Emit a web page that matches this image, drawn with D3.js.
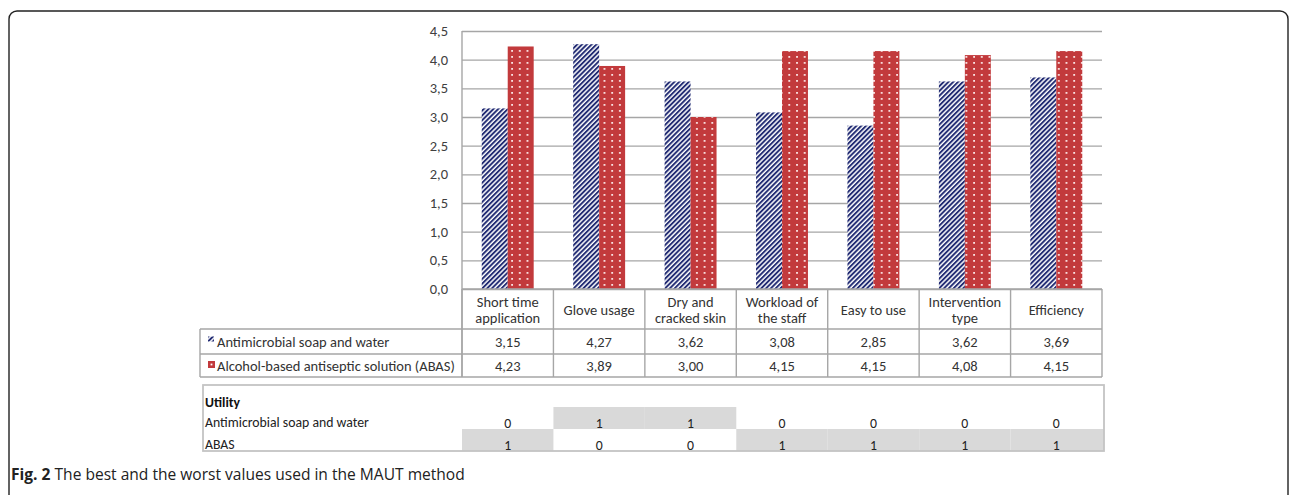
<!DOCTYPE html>
<html>
<head>
<meta charset="utf-8">
<script src="https://cdn.jsdelivr.net/npm/d3@7"></script>
<style>
  body { margin: 0; background: #fff; }
  svg { display: block; }
  text { font-family: Carlito, Lato, "Open Sans", sans-serif; }
</style>
</head>
<body>
<svg id="chart" width="1292" height="495"></svg>
<script>
// data
const categories = [["Short time", "application"], ["Glove usage"], ["Dry and", "cracked skin"],
  ["Workload of", "the staff"], ["Easy to use"], ["Intervention", "type"], ["Efficiency"]];
const seriesNames = ["Antimicrobial soap and water", "Alcohol-based antiseptic solution (ABAS)"];
const soapValues = [3.15, 4.27, 3.62, 3.08, 2.85, 3.62, 3.69];
const abasValues = [4.23, 3.89, 3.00, 4.15, 4.15, 4.08, 4.15];
const yTicks = [0, 0.5, 1, 1.5, 2, 2.5, 3, 3.5, 4, 4.5];
const utilityRows = ["Antimicrobial soap and water", "ABAS"];
const utilitySoap = [0, 1, 1, 0, 0, 0, 0];
const utilityAbas = [1, 0, 0, 1, 1, 1, 1];
const caption = ["Fig. 2", " The best and the worst values used in the MAUT method"];

const svg = d3.select("#chart");
const plot = { left: 462, right: 1102, top: 31, bottom: 289 };
const tbl = { left: 200, catBottom: 329, row1: 354, row2: 377 };
const util = { left: 203, right: 1104, top: 385, row0: 407, row1: 429, bottom: 451 };
const gridCol = "#a6a6a6";
const textCol = "#333";
const comma = f => v => d3.format(f)(v).replace(".", ",");

// 文字幅を測って大きさを決める
function fitSize(str, family, weight, target) {
  const t = svg.append("text").style("font-family", family).style("font-weight", weight)
    .style("font-size", "20px").text(str);
  const w = t.node().getComputedTextLength();
  t.remove();
  return 20 * target / w;
}
const tableFont = "Carlito, Lato, 'Open Sans', sans-serif";
const fs = fitSize(seriesNames[1], tableFont, "normal", 238);
const ufs = fitSize(utilityRows[0], tableFont, "normal", 164);
const capFont = "'Open Sans', sans-serif";
const cfs = fitSize(caption[0] + caption[1], capFont, "normal", 452);

// patterns
const defs = svg.append("defs");
const hatch = defs.append("pattern").attr("id", "hatch")
  .attr("patternUnits", "userSpaceOnUse").attr("width", 3.4).attr("height", 3.4)
  .attr("patternTransform", "rotate(45)");
hatch.append("rect").attr("width", 3.4).attr("height", 3.4).attr("fill", "#fff");
hatch.append("line").attr("x1", 1).attr("x2", 1).attr("y1", 0).attr("y2", 3.4)
  .attr("stroke", "#1c2670").attr("stroke-width", 1.9);
const dots = defs.append("pattern").attr("id", "dots")
  .attr("patternUnits", "userSpaceOnUse").attr("width", 7.7).attr("height", 6);
dots.append("rect").attr("width", 7.7).attr("height", 6).attr("fill", "#c23a3c");
dots.append("rect").attr("x", 3).attr("y", 2).attr("width", 1.8).attr("height", 1.8).attr("fill", "#fbe6e6");

// 外枠
svg.append("rect").attr("x", 9).attr("y", 11).attr("width", 1279).attr("height", 520)
  .attr("rx", 8).attr("fill", "none").attr("stroke", "#222").attr("stroke-width", 1.4);

// scales
const x = d3.scaleBand().domain(d3.range(categories.length)).range([plot.left, plot.right]);
const xs = d3.scaleBand().domain([0, 1]).range([0, x.bandwidth()]).paddingOuter(0.76);
const y = d3.scaleLinear().domain([0, 4.5]).range([plot.bottom, plot.top]);

// gridlines
svg.append("g").attr("transform", `translate(${plot.left},0)`)
  .call(d3.axisLeft(y).tickValues(yTicks).tickSize(-(plot.right - plot.left)).tickFormat(""))
  .call(g => g.select(".domain").remove())
  .call(g => g.selectAll("line").attr("stroke", gridCol).attr("stroke-width", 1.4));

// y labels
svg.append("g").attr("transform", `translate(${plot.left},0)`)
  .call(d3.axisLeft(y).tickValues(yTicks).tickSize(0).tickPadding(14).tickFormat(comma(".1f")))
  .call(g => g.select(".domain").remove())
  .call(g => g.selectAll("text").attr("fill", "#404040").style("font-size", fs + "px")
    .style("font-family", tableFont));

// bars
const series = [soapValues, abasValues];
const fills = ["url(#hatch)", "url(#dots)"];
series.forEach((vals, s) => {
  svg.append("g").selectAll("rect").data(vals).join("rect")
    .attr("x", (d, i) => x(i) + xs(s))
    .attr("y", d => y(d))
    .attr("width", xs.bandwidth())
    .attr("height", d => y(0) - y(d))
    .attr("fill", fills[s]);
});

// y axis line
svg.append("line").attr("x1", plot.left).attr("x2", plot.left).attr("y1", plot.top).attr("y2", tbl.row2)
  .attr("stroke", gridCol).attr("stroke-width", 1.4);

// data table
const tg = svg.append("g").attr("stroke", gridCol).attr("stroke-width", 1.4);
tg.append("line").attr("x1", plot.left).attr("x2", plot.right).attr("y1", plot.bottom).attr("y2", plot.bottom);
[tbl.catBottom, tbl.row1, tbl.row2].forEach(yy =>
  tg.append("line").attr("x1", tbl.left).attr("x2", plot.right).attr("y1", yy).attr("y2", yy));
tg.append("line").attr("x1", tbl.left).attr("x2", tbl.left).attr("y1", tbl.catBottom).attr("y2", tbl.row2);
d3.range(categories.length + 1).forEach(i => {
  const xx = i < categories.length ? x(i) : plot.right;
  tg.append("line").attr("x1", xx).attr("x2", xx).attr("y1", plot.bottom).attr("y2", tbl.row2);
});

// category labels
const catY = (plot.bottom + tbl.catBottom) / 2 + 0.5;
svg.append("g").selectAll("text").data(categories).join("text")
  .attr("x", (d, i) => x(i) + x.bandwidth() / 2)
  .attr("y", d => catY - (d.length - 1) * 8)
  .attr("text-anchor", "middle").attr("dominant-baseline", "central")
  .attr("fill", textCol).style("font-size", fs + "px")
  .each(function(d) {
    d3.select(this).selectAll("tspan").data(d).join("tspan")
      .attr("x", d3.select(this).attr("x"))
      .attr("dy", (t, j) => j ? 16 : 0)
      .text(t => t);
  });

// series rows
const rowMid = [(tbl.catBottom + tbl.row1) / 2, (tbl.row1 + tbl.row2) / 2];
series.forEach((vals, s) => {
  svg.append("g").selectAll("text").data(vals).join("text")
    .attr("x", (d, i) => x(i) + x.bandwidth() / 2)
    .attr("y", rowMid[s])
    .attr("text-anchor", "middle").attr("dominant-baseline", "central")
    .attr("fill", textCol).style("font-size", fs + "px")
    .text(comma(".2f"));
  svg.append("text").attr("x", 217).attr("y", rowMid[s])
    .attr("dominant-baseline", "central").attr("fill", textCol).style("font-size", fs + "px")
    .text(seriesNames[s]);
});
// legend keys
svg.append("rect").attr("x", 208).attr("y", rowMid[0] - 5).attr("width", 6).attr("height", 5).attr("fill", "url(#hatch)");
svg.append("rect").attr("x", 208).attr("y", rowMid[1] - 4.5).attr("width", 7).attr("height", 7)
  .attr("fill", "#c23a3c");
svg.append("rect").attr("x", 210.6).attr("y", rowMid[1] - 1.9).attr("width", 1.8).attr("height", 1.8).attr("fill", "#fff");

// utility table
const ug = svg.append("g");
const utilVals = [utilitySoap, utilityAbas];
const uRows = [[util.row0, util.row1], [util.row1, util.bottom]];
utilVals.forEach((vals, r) => {
  ug.append("g").selectAll("rect").data(vals).join("rect")
    .attr("x", (d, i) => x(i))
    .attr("y", uRows[r][0])
    .attr("width", (d, i) => (i < categories.length - 1 ? x(i + 1) : util.right) - x(i))
    .attr("height", uRows[r][1] - uRows[r][0])
    .attr("fill", d => d === 1 ? "#d9d9d9" : "none");
  ug.append("g").selectAll("text").data(vals).join("text")
    .attr("x", (d, i) => x(i) + x.bandwidth() / 2)
    .attr("y", uRows[r][1] - 6)
    .attr("text-anchor", "middle").attr("dominant-baseline", "central")
    .attr("fill", "#222").style("font-size", ufs + "px")
    .text(d => d);
  ug.append("text").attr("x", util.left + 2).attr("y", uRows[r][1] - 7)
    .attr("dominant-baseline", "central").attr("fill", "#222").style("font-size", ufs + "px")
    .text(utilityRows[r]);
});
ug.append("text").attr("x", util.left + 2).attr("y", util.row0 - 5)
  .attr("dominant-baseline", "central").attr("fill", "#111").style("font-size", ufs + "px")
  .style("font-weight", "bold").text("Utility");
ug.append("rect").attr("x", util.left).attr("y", util.top)
  .attr("width", util.right - util.left).attr("height", util.bottom - util.top)
  .attr("fill", "none").attr("stroke", "#c4c4c4").attr("stroke-width", 1.8);

// caption
const cap = svg.append("text").attr("x", 11).attr("y", 480)
  .style("font-family", capFont).style("font-size", cfs + "px").attr("fill", "#222");
cap.append("tspan").style("font-weight", "bold").text(caption[0]);
cap.append("tspan").text(caption[1]);
</script>
</body>
</html>
